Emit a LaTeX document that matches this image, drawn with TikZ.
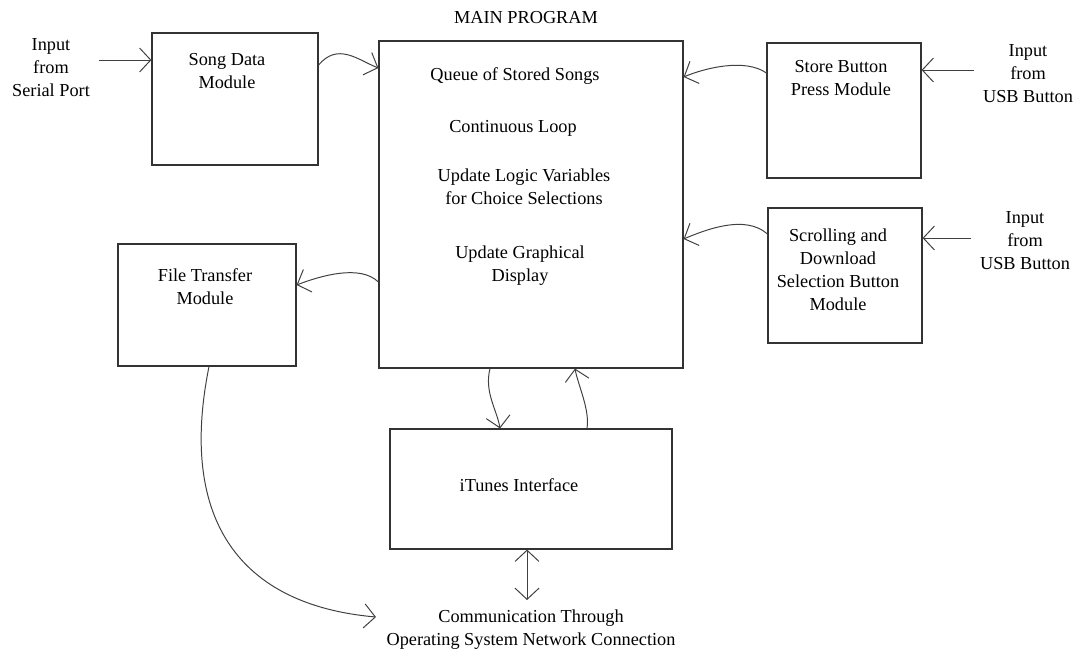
\documentclass[tikz,border=0pt]{standalone}
\usepackage{fontspec}
\setmainfont{Liberation Serif}
\usetikzlibrary{arrows.meta,positioning}

\begin{document}
\begin{tikzpicture}[x=0.025cm,y=-0.025cm,
    box/.style={draw=black!80,line width=0.8pt,inner sep=0pt},
    txt/.style={align=center,inner sep=2pt,font=\fontsize{13}{16.4}\selectfont},
    inp/.style={txt,inner sep=6pt},
    flow/.style={draw=black!75,line width=0.7pt,-{Straight Barb[length=2.8mm,width=6mm]}},
    both/.style={draw=black!75,line width=0.7pt,{Straight Barb[length=2.8mm,width=6mm]}-{Straight Barb[length=2.8mm,width=6mm]}}]
    \useasboundingbox (0,0) rectangle (1076,652);

    % draw boxes
    \node[box,minimum width=4.15cm,minimum height=3.3cm] (song) at (235,99) {};
    \node[box,minimum width=7.6cm,minimum height=8.175cm] (main) at (531,204.5) {};
    \node[box,minimum width=3.85cm,minimum height=3.375cm] (store) at (844,110.5) {};
    \node[box,minimum width=3.85cm,minimum height=3.375cm] (scroll) at (845,275.5) {};
    \node[box,minimum width=4.45cm,minimum height=3.05cm] (file) at (207,305) {};
    \node[box,minimum width=7.05cm,minimum height=3cm] (itunes) at (531,489) {};

    % labels
    \node[txt] (title) at (526,18) {MAIN PROGRAM};
    \node[txt] (songtxt) at (227,71) {Song Data\\Module};
    \node[txt] (queue) at (515,76) {Queue of Stored Songs};
    \node[txt] (loop) at (513,128) {Continuous Loop};
    \node[txt] (logic) at (524,187) {Update Logic Variables\\for Choice Selections};
    \node[txt] (disp) at (520,266) {Update Graphical\\Display};
    \node[txt] (storetxt) at (841,78) {Store Button\\Press Module};
    \node[txt] (scrolltxt) at (838,270) {Scrolling and\\Download\\Selection Button\\Module};
    \node[txt] (filetxt) at (205,287) {File Transfer\\Module};
    \node[txt] (itunestxt) at (519,485) {iTunes Interface};
    \node[txt] (comm) at (531,630) {Communication Through\\Operating System Network Connection};

    % inputs
    \node[inp] (serial) at (51,68) {Input\\from\\Serial Port};
    \node[inp] (usbA) at (1028,74) {Input\\from\\USB Button};
    \node[inp] (usbB) at (1025,241) {Input\\from\\USB Button};

    % straight arrows
    \draw[flow] (serial.east |- 0,60) -- (song.west |- 0,60);
    \draw[flow] (usbA.west |- 0,70) -- (store.east |- 0,70);
    \draw[flow] (usbB.west |- 0,238) -- (scroll.east |- 0,238);
    \draw[both] (itunes.south -| 527,0) -- (527,600);

    % curved arrows
    \draw[flow] (song.east |- 0,65) .. controls (338,42) and (358,60) .. (main.west |- 0,68);
    \draw[flow] (store.west |- 0,73) .. controls (745,58) and (705,68) .. (main.east |- 0,77);
    \draw[flow] (scroll.west |- 0,234) .. controls (745,214) and (705,230) .. (main.east |- 0,239);
    \draw[flow] (main.west |- 0,282) .. controls (360,264) and (320,276) .. (file.east |- 0,285);
    \draw[flow] (main.south -| 490,0) .. controls (484,392) and (497,410) .. (itunes.north -| 500,0);
    \draw[flow] (itunes.north -| 587,0) .. controls (590,410) and (578,385) .. (main.south -| 575,0);
    \draw[flow] (file.south -| 209,0) .. controls (178,520) and (240,605) .. (376,617);
\end{tikzpicture}
\end{document}
